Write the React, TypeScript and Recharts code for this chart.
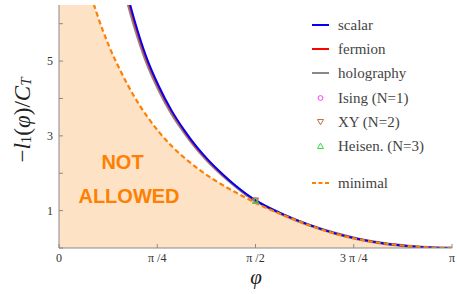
import React from "react";
import { ComposedChart, Line, Area, Scatter, XAxis, YAxis } from "recharts";

const PI = Math.PI;

// scalar / fermion / holography share the same phi samples
const curveX = [0.5, 0.6, 0.7, 0.8, 0.9, 1.0, 1.1, 1.2, 1.3, 1.4, 1.5, 1.6, 1.8, 2.0, 2.2, 2.4, 2.6, 2.8, 3.0, PI];
const scalarY = [7.41, 6.14, 5.1, 4.32, 3.68, 3.16, 2.71, 2.33, 2.0, 1.7, 1.44, 1.22, 0.89, 0.62, 0.4, 0.235, 0.12, 0.05, 0.008, 0];
const fermionY = [7.29, 6.05, 5.03, 4.27, 3.64, 3.13, 2.68, 2.31, 1.98, 1.69, 1.43, 1.21, 0.88, 0.62, 0.4, 0.235, 0.12, 0.05, 0.008, 0];
const holographyY = [7.19, 5.97, 4.97, 4.22, 3.6, 3.1, 2.66, 2.29, 1.97, 1.68, 1.42, 1.21, 0.88, 0.61, 0.4, 0.235, 0.12, 0.05, 0.008, 0];

const minimalX = [0, 0.1, 0.2, 0.3, 0.4, 0.5, 0.6, 0.7, 0.8, 0.9, 1.0, 1.1, 1.2, 1.3, 1.4, 1.5, 1.6, 1.8, 2.0, 2.2, 2.4, 2.6, 2.8, 3.0, PI];
const minimalY = [12, 9.5, 7.45, 6.3, 5.4, 4.68, 4.06, 3.54, 3.1, 2.73, 2.42, 2.15, 1.91, 1.7, 1.51, 1.33, 1.16, 0.87, 0.61, 0.39, 0.23, 0.12, 0.05, 0.008, 0];

const isingPt = [{ x: PI / 2, y: 1.27 }];
const xyPt = [{ x: PI / 2, y: 1.27 }];
const heisenPt = [{ x: PI / 2, y: 1.26 }];

const xTicks = [0, PI / 4, PI / 2, (3 * PI) / 4, PI];
const xTickLabels = ["0", "π /4", "π /2", "3 π /4", "π"];
const yTicks = [0, 1, 2, 3, 4, 5, 6];
const yTickLabels = ["", "1", "", "3", "", "5", ""];

const zip = (xs: number[], ys: number[]) => xs.map((x, i) => ({ x, y: ys[i] }));
const scalarData = zip(curveX, scalarY);
const fermionData = zip(curveX, fermionY);
const holographyData = zip(curveX, holographyY);
const minimalData = zip(minimalX, minimalY);

const FONT = "'Liberation Serif', 'DejaVu Serif', serif";
const ORANGE = "#ff8000";
const FILL = "#fde2c6";
const AXIS = "#8a8a8a";
const FRAME = "#b8b8b8";

const LeftTick = (p: any) => {
  const i = yTicks.indexOf(p.payload.value);
  return (
    <g>
      <line x1={p.x + 5} x2={p.x + 9} y1={p.y} y2={p.y} stroke={AXIS} />
      <text x={p.x - 1} y={p.y} dy="0.35em" textAnchor="end" fontFamily={FONT} fontSize={12} fill="#333">
        {i >= 0 ? yTickLabels[i] : ""}
      </text>
    </g>
  );
};
const RightTick = (p: any) => (
  <line x1={p.x - 4} x2={p.x} y1={p.y} y2={p.y} stroke={FRAME} />
);
const BottomTick = (p: any) => {
  const i = xTicks.findIndex((t) => Math.abs(t - p.payload.value) < 1e-6);
  return (
    <g>
      <line x1={p.x} x2={p.x} y1={p.y - 4} y2={p.y - 8} stroke={AXIS} />
      <text x={p.x} y={p.y} dy="0.8em" textAnchor="middle" fontFamily={FONT} fontSize={12} fill="#333">
        {i >= 0 ? xTickLabels[i] : ""}
      </text>
    </g>
  );
};
const TopTick = (p: any) => (
  <line x1={p.x} x2={p.x} y1={p.y} y2={p.y + 4} stroke={FRAME} />
);

const CircleMark = (p: any) => (
  <circle cx={p.cx} cy={p.cy} r={2.6} fill="none" stroke="#ff40ff" strokeWidth={1} />
);
const DownTri = (p: any) => (
  <path d={`M${p.cx - 3.2},${p.cy - 2.6}L${p.cx + 3.2},${p.cy - 2.6}L${p.cx},${p.cy + 2.9}Z`} fill="none" stroke="#c0703a" strokeWidth={1} />
);
const UpTri = (p: any) => (
  <path d={`M${p.cx - 3.2},${p.cy + 2.6}L${p.cx + 3.2},${p.cy + 2.6}L${p.cx},${p.cy - 2.9}Z`} fill="none" stroke="#33dd33" strokeWidth={1} />
);

const legendItems = [
  { label: "scalar", kind: "line", color: "#0000ff", y: 25 },
  { label: "fermion", kind: "line", color: "#ff0000", y: 49 },
  { label: "holography", kind: "line", color: "#888888", y: 73 },
  { label: "Ising (N=1)", kind: "circle", color: "#ff40ff", y: 98 },
  { label: "XY (N=2)", kind: "down", color: "#c0703a", y: 122 },
  { label: "Heisen. (N=3)", kind: "up", color: "#33dd33", y: 146 },
  { label: "minimal", kind: "dash", color: ORANGE, y: 183 },
];

const LegendIcon = ({ kind, color, y }: any) => {
  const cx = 320.5;
  if (kind === "line") return <line x1={312} x2={329} y1={y} y2={y} stroke={color} strokeWidth={2} />;
  if (kind === "dash") return <line x1={312} x2={329} y1={y} y2={y} stroke={color} strokeWidth={2} strokeDasharray="4 2.5" />;
  if (kind === "circle") return <circle cx={cx} cy={y} r={2.4} fill="none" stroke={color} />;
  if (kind === "down") return <path d={`M${cx - 3},${y - 2.5}L${cx + 3},${y - 2.5}L${cx},${y + 2.8}Z`} fill="none" stroke={color} />;
  return <path d={`M${cx - 3},${y + 2.5}L${cx + 3},${y + 2.5}L${cx},${y - 2.8}Z`} fill="none" stroke={color} />;
};

export default function App() {
  return (
    <div style={{ position: "absolute", left: 0, top: 0, width: 457, height: 294, background: "#fff" }}>
      <ComposedChart width={457} height={294} margin={{ top: 5, right: 5, bottom: 16, left: 19 }}>
        <XAxis xAxisId="b" type="number" dataKey="x" domain={[0, PI]} ticks={xTicks} allowDataOverflow
          height={30} tickSize={0} tickMargin={4} tickLine={false} axisLine={{ stroke: AXIS }} tick={BottomTick} interval={0} />
        <XAxis xAxisId="t" orientation="top" type="number" dataKey="x" domain={[0, PI]} ticks={xTicks} allowDataOverflow
          height={0} tickSize={0} tickMargin={0} tickLine={false} axisLine={{ stroke: FRAME }} tick={TopTick} interval={0} />
        <YAxis yAxisId="l" type="number" domain={[0, 6.5]} ticks={yTicks} allowDataOverflow width={40}
          tickSize={0} tickMargin={5} tickLine={false} axisLine={{ stroke: AXIS }} tick={LeftTick} interval={0} />
        <YAxis yAxisId="r" orientation="right" type="number" domain={[0, 6.5]} ticks={yTicks} allowDataOverflow width={0}
          tickSize={0} tickMargin={0} tickLine={false} axisLine={{ stroke: FRAME }} tick={RightTick} interval={0} />
        <Area xAxisId="b" yAxisId="l" data={minimalData} dataKey="y" type="monotone" fill={FILL} fillOpacity={1}
          stroke="none" isAnimationActive={false} baseValue={0} />
        <Line xAxisId="b" yAxisId="l" data={holographyData} dataKey="y" type="monotone" stroke="#888888" strokeWidth={3}
          dot={false} isAnimationActive={false} />
        <Line xAxisId="b" yAxisId="l" data={fermionData} dataKey="y" type="monotone" stroke="#ff0000" strokeWidth={1.4}
          dot={false} isAnimationActive={false} />
        <Line xAxisId="b" yAxisId="l" data={scalarData} dataKey="y" type="monotone" stroke="#0000ff" strokeWidth={1.8}
          dot={false} isAnimationActive={false} />
        <Line xAxisId="b" yAxisId="l" data={minimalData} dataKey="y" type="monotone" stroke={ORANGE} strokeWidth={2.2}
          strokeDasharray="5 3" dot={false} isAnimationActive={false} />
        <Scatter xAxisId="b" yAxisId="l" data={isingPt} dataKey="y" shape={CircleMark} isAnimationActive={false} />
        <Scatter xAxisId="b" yAxisId="l" data={xyPt} dataKey="y" shape={DownTri} isAnimationActive={false} />
        <Scatter xAxisId="b" yAxisId="l" data={heisenPt} dataKey="y" shape={UpTri} isAnimationActive={false} />
      </ComposedChart>
      <svg width={457} height={294} style={{ position: "absolute", left: 0, top: 0, pointerEvents: "none" }}>
        <text transform="translate(22,120) rotate(-90)" textAnchor="middle" dominantBaseline="central"
          fontFamily={FONT} fontSize={23} fill="#222">
          <tspan>−</tspan>
          <tspan fontStyle="italic">l</tspan>
          <tspan fontSize={15} dy={4}>1</tspan>
          <tspan dy={-4}>(</tspan>
          <tspan fontStyle="italic">φ</tspan>
          <tspan>)/</tspan>
          <tspan fontStyle="italic">C</tspan>
          <tspan fontStyle="italic" fontSize={15} dy={4}>T</tspan>
        </text>
        <text x={256} y={277} textAnchor="middle" dominantBaseline="central" fontFamily={FONT} fontStyle="italic"
          fontSize={21} fill="#222">φ</text>
        <text x={122.5} y={162} textAnchor="middle" dominantBaseline="central"
          fontFamily="'Liberation Sans', Arial, sans-serif" fontWeight="bold" fontSize={20} fill={ORANGE}>NOT</text>
        <text x={129} y={196} textAnchor="middle" dominantBaseline="central"
          fontFamily="'Liberation Sans', Arial, sans-serif" fontWeight="bold" fontSize={20} fill={ORANGE}>ALLOWED</text>
        {legendItems.map((it) => (
          <g key={it.label}>
            <LegendIcon kind={it.kind} color={it.color} y={it.y} />
            <text x={338} y={it.y} dominantBaseline="central" fontFamily={FONT} fontSize={15} fill="#444">{it.label}</text>
          </g>
        ))}
      </svg>
    </div>
  );
}
